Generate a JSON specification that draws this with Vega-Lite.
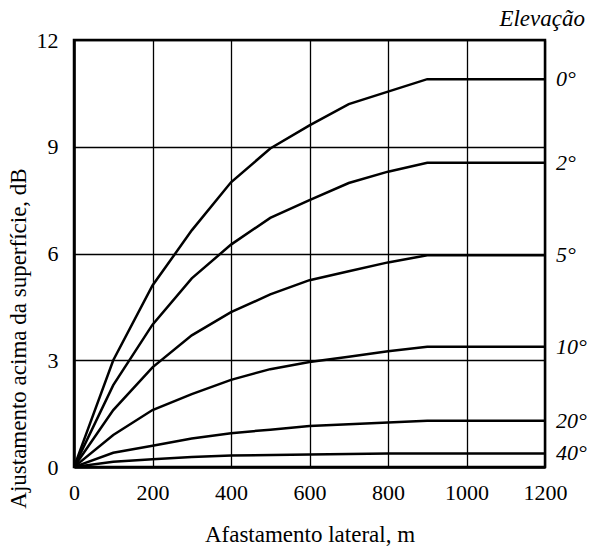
{
  "$schema": "https://vega.github.io/schema/vega-lite/v6.json",
  "width": 471,
  "height": 427,
  "autosize": {"type": "none"},
  "padding": {"left": 74, "top": 40, "right": 44, "bottom": 79},
  "background": "white",
  "config": {
    "font": "Liberation Serif",
    "view": {"stroke": "black", "strokeWidth": 2.5},
    "axis": {
      "labelFont": "Liberation Serif",
      "titleFont": "Liberation Serif",
      "labelFontSize": 22,
      "titleFontSize": 23,
      "titleFontWeight": "normal",
      "labelColor": "black",
      "titleColor": "black",
      "grid": true,
      "gridColor": "black",
      "gridWidth": 1.3,
      "gridOpacity": 1,
      "ticks": false,
      "tickSize": 0,
      "labelFlush": false,
      "labelOverlap": false,
      "domainColor": "black",
      "domainWidth": 2.5
    }
  },
  "datasets": {
    "curves": [
      {"x": 0, "y": 0, "e": "0°"},
      {"x": 100, "y": 3.0, "e": "0°"},
      {"x": 200, "y": 5.1, "e": "0°"},
      {"x": 300, "y": 6.65, "e": "0°"},
      {"x": 400, "y": 8.0, "e": "0°"},
      {"x": 500, "y": 8.95, "e": "0°"},
      {"x": 600, "y": 9.6, "e": "0°"},
      {"x": 700, "y": 10.2, "e": "0°"},
      {"x": 800, "y": 10.55, "e": "0°"},
      {"x": 900, "y": 10.9, "e": "0°"},
      {"x": 1200, "y": 10.9, "e": "0°"},
      {"x": 0, "y": 0, "e": "2°"},
      {"x": 100, "y": 2.3, "e": "2°"},
      {"x": 200, "y": 4.0, "e": "2°"},
      {"x": 300, "y": 5.3, "e": "2°"},
      {"x": 400, "y": 6.25, "e": "2°"},
      {"x": 500, "y": 7.0, "e": "2°"},
      {"x": 600, "y": 7.5, "e": "2°"},
      {"x": 700, "y": 7.98, "e": "2°"},
      {"x": 800, "y": 8.3, "e": "2°"},
      {"x": 900, "y": 8.55, "e": "2°"},
      {"x": 1200, "y": 8.55, "e": "2°"},
      {"x": 0, "y": 0, "e": "5°"},
      {"x": 100, "y": 1.6, "e": "5°"},
      {"x": 200, "y": 2.8, "e": "5°"},
      {"x": 300, "y": 3.7, "e": "5°"},
      {"x": 400, "y": 4.35, "e": "5°"},
      {"x": 500, "y": 4.85, "e": "5°"},
      {"x": 600, "y": 5.25, "e": "5°"},
      {"x": 700, "y": 5.5, "e": "5°"},
      {"x": 800, "y": 5.75, "e": "5°"},
      {"x": 900, "y": 5.95, "e": "5°"},
      {"x": 1200, "y": 5.95, "e": "5°"},
      {"x": 0, "y": 0, "e": "10°"},
      {"x": 100, "y": 0.9, "e": "10°"},
      {"x": 200, "y": 1.6, "e": "10°"},
      {"x": 300, "y": 2.05, "e": "10°"},
      {"x": 400, "y": 2.45, "e": "10°"},
      {"x": 500, "y": 2.75, "e": "10°"},
      {"x": 600, "y": 2.95, "e": "10°"},
      {"x": 700, "y": 3.1, "e": "10°"},
      {"x": 800, "y": 3.25, "e": "10°"},
      {"x": 900, "y": 3.38, "e": "10°"},
      {"x": 1200, "y": 3.38, "e": "10°"},
      {"x": 0, "y": 0, "e": "20°"},
      {"x": 100, "y": 0.4, "e": "20°"},
      {"x": 200, "y": 0.6, "e": "20°"},
      {"x": 300, "y": 0.8, "e": "20°"},
      {"x": 400, "y": 0.95, "e": "20°"},
      {"x": 500, "y": 1.05, "e": "20°"},
      {"x": 600, "y": 1.15, "e": "20°"},
      {"x": 700, "y": 1.2, "e": "20°"},
      {"x": 800, "y": 1.25, "e": "20°"},
      {"x": 900, "y": 1.3, "e": "20°"},
      {"x": 1200, "y": 1.3, "e": "20°"},
      {"x": 0, "y": 0, "e": "40°"},
      {"x": 100, "y": 0.15, "e": "40°"},
      {"x": 200, "y": 0.22, "e": "40°"},
      {"x": 300, "y": 0.28, "e": "40°"},
      {"x": 400, "y": 0.32, "e": "40°"},
      {"x": 600, "y": 0.35, "e": "40°"},
      {"x": 800, "y": 0.38, "e": "40°"},
      {"x": 900, "y": 0.38, "e": "40°"},
      {"x": 1200, "y": 0.38, "e": "40°"}
    ],
    "header": [{"x": 1200, "y": 12, "t": "Elevação"}]
  },
  "layer": [
    {
      "data": {"name": "curves"},
      "mark": {"type": "line", "color": "black", "strokeWidth": 2.5, "clip": true},
      "encoding": {
        "x": {
          "field": "x", "type": "quantitative",
          "scale": {"domain": [0, 1200], "nice": false},
          "axis": {"values": [0, 200, 400, 600, 800, 1000, 1200], "format": "d", "title": "Afastamento lateral, m", "labelPadding": 15, "titlePadding": 20}
        },
        "y": {
          "field": "y", "type": "quantitative",
          "scale": {"domain": [0, 12], "nice": false},
          "axis": {"values": [0, 3, 6, 9, 12], "format": "d", "title": "Ajustamento acima da superfície, dB", "labelPadding": 16, "titlePadding": 6, "titleY": 298}
        },
        "detail": {"field": "e"}
      }
    },
    {
      "data": {"name": "curves"},
      "transform": [{"filter": "datum.x == 1200"}],
      "mark": {"type": "text", "align": "left", "baseline": "middle", "dx": 11, "fontStyle": "italic", "fontSize": 22, "font": "Liberation Serif", "color": "black"},
      "encoding": {
        "x": {"field": "x", "type": "quantitative"},
        "y": {"field": "y", "type": "quantitative"},
        "text": {"field": "e"}
      }
    },
    {
      "data": {"name": "header"},
      "mark": {"type": "text", "align": "right", "baseline": "middle", "dx": 40, "dy": -21, "fontStyle": "italic", "fontSize": 23, "font": "Liberation Serif", "color": "black", "clip": false},
      "encoding": {
        "x": {"field": "x", "type": "quantitative"},
        "y": {"field": "y", "type": "quantitative"},
        "text": {"field": "t"}
      }
    }
  ]
}
